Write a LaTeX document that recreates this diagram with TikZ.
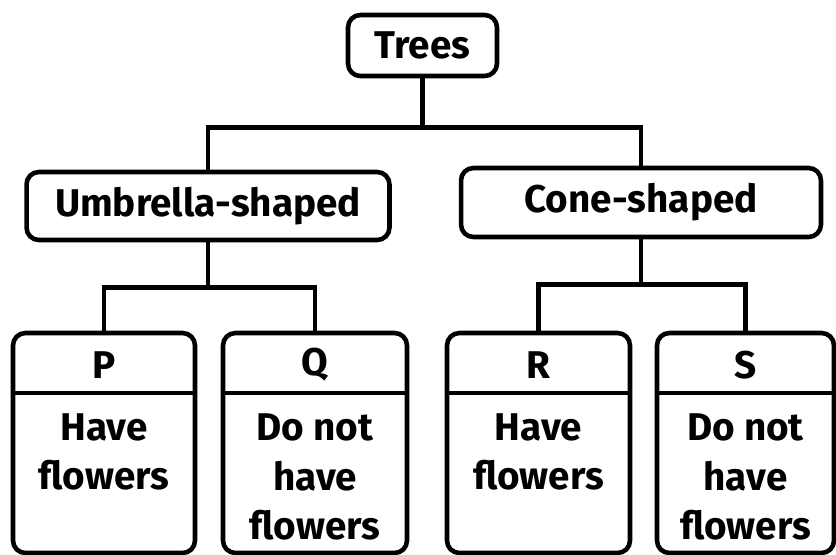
\documentclass[tikz,border=0pt]{standalone}
\usepackage{fontspec}
\setmainfont{Fira Sans}
\tikzset{
  box/.style={draw, line width=2.6pt, rounded corners=7pt, inner sep=0pt},
  line/.style={line width=2.6pt},
  lbl/.style={font=\bfseries\fontsize{22}{28}\selectfont, align=center},
}
\begin{document}
\begin{tikzpicture}[x=0.02cm,y=-0.02cm]
\useasboundingbox (0,0) rectangle (836,555);
%\draw[step=50,gray,very thin] (0,0) grid (836,555); %background grid
\node[box,minimum width=2.98cm,minimum height=1.22cm] (trees) at (422.5,45.5) {}; %top
\node[lbl] at (trees) {Trees};
\node[box,minimum width=7.26cm,minimum height=1.36cm] (umb) at (208,206) {}; %left
\node[lbl] at (umb) {Umbrella-shaped};
\node[box,minimum width=7.2cm,minimum height=1.38cm] (cone) at (641,202.5) {}; %right
\node[lbl] at (cone) {Cone-shaped};
\node[box,minimum width=3.64cm,minimum height=4.4cm] (P) at (104,443) {}; %P
\node[box,minimum width=3.68cm,minimum height=4.4cm] (Q) at (315,443) {}; %Q
\node[box,minimum width=3.66cm,minimum height=4.4cm] (R) at (538.5,443) {}; %R
\node[box,minimum width=3.54cm,minimum height=4.4cm] (S) at (745.5,443) {}; %S
\draw[line] (P.west |- 0,393) -- (P.east |- 0,393);
\draw[line] (Q.west |- 0,393) -- (Q.east |- 0,393);
\draw[line] (R.west |- 0,393) -- (R.east |- 0,393);
\draw[line] (S.west |- 0,393) -- (S.east |- 0,393);
\node[lbl] at (104,365) {P};
\node[lbl] at (315,365) {Q};
\node[lbl] at (538.5,365) {R};
\node[lbl] at (745.5,365) {S};
\node[lbl] at (104,452) {Have\\flowers};
\node[lbl] at (315,477) {Do not\\have\\flowers};
\node[lbl] at (538.5,452) {Have\\flowers};
\node[lbl] at (745.5,477) {Do not\\have\\flowers};
%connectors
\path (trees.south) ++(0,49) coordinate (top);
\path (umb.south) ++(0,45) coordinate (left);
\path (cone.south) ++(0,45) coordinate (right);
\draw[line] (trees.south) -- (top);
\draw[line] (umb.north) |- (top) -| (cone.north);
\draw[line] (umb.south) -- (left);
\draw[line] (P.north) |- (left) -| (Q.north);
\draw[line] (cone.south) -- (right);
\draw[line] (R.north) |- (right) -| (S.north);
\end{tikzpicture}
\end{document}
